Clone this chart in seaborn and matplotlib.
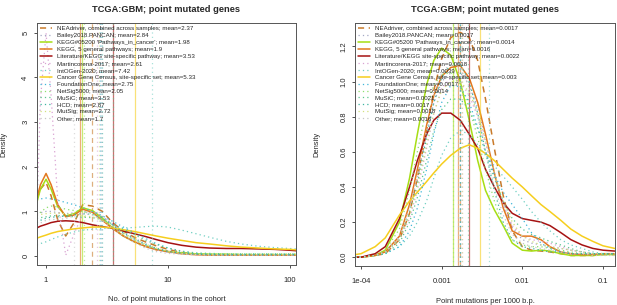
import matplotlib
matplotlib.use("Agg")
import matplotlib.pyplot as plt
import matplotlib.ticker as mticker
import seaborn as sns

sns.set_style("white")
plt.rcParams['font.family'] = ['Liberation Sans', 'DejaVu Sans']

# series names, colours and line kinds
names = ["NEAdriver, combined across samples", "Bailey2018.PANCAN", "KEGG#05200 'Pathways_in_cancer'",
         "KEGG, 5 general pathways", "Literature/KEGG site-specific pathway", "Martincorena-2017",
         "IntOGen-2020", "Cancer Gene Census, site-specific set", "FoundationOne", "NetSig5000",
         "MuSiC", "HCD", "MutSig", "Other"]
colors = ["#C97A2A", "#A4A8C4", "#A6DE14", "#E2781E", "#A51212", "#D9A2D2", "#6FCFC2",
          "#F6CE1E", "#3FB6D8", "#8EDF6C", "#5CC68E", "#3DB4A0", "#D2E07E", "#C6C6C6"]
kinds = ["dashed", "dotted", "solid", "solid", "solid", "dotted", "dotted",
         "solid", "dotted", "dotted", "dotted", "dotted", "dotted", "dotted"]

# left panel: number of point mutations in the cohort
means_left = [2.37, 2.84, 1.98, 1.9, 3.53, 2.61, 7.42, 5.33, 2.75, 2.05, 3.53, 2.87, 2.72, 1.7]
x_left = [0.84, 0.9, 1.0, 1.1, 1.25, 1.45, 1.7, 2.0, 2.4, 2.9, 3.5, 4.3, 5.3, 6.5, 8, 10, 13, 17,
          22, 30, 40, 55, 75, 100, 112]
dens_left = [
    [1.27, 1.5, 1.65, 1.35, 0.8, 0.45, 0.75, 1.15, 1.12, 1.0, 0.75, 0.56, 0.42, 0.32, 0.23, 0.15, 0.08, 0.04, 0.03, 0.02, 0.03, 0.02, 0.02, 0.02, 0.02],
    [0.95, 0.97, 1.0, 1.0, 0.97, 0.95, 0.97, 1.0, 0.98, 0.88, 0.72, 0.55, 0.4, 0.28, 0.18, 0.12, 0.07, 0.05, 0.04, 0.03, 0.03, 0.03, 0.03, 0.03, 0.03],
    [1.2, 1.5, 1.72, 1.5, 1.1, 0.9, 0.95, 1.08, 1.02, 0.85, 0.63, 0.45, 0.32, 0.22, 0.15, 0.1, 0.07, 0.05, 0.04, 0.04, 0.03, 0.03, 0.03, 0.03, 0.03],
    [1.3, 1.6, 1.85, 1.6, 1.15, 0.88, 0.92, 1.05, 0.98, 0.8, 0.62, 0.45, 0.32, 0.22, 0.14, 0.1, 0.05, 0.03, 0.02, 0.02, 0.02, 0.02, 0.02, 0.02, 0.02],
    [0.63, 0.67, 0.71, 0.75, 0.78, 0.79, 0.78, 0.75, 0.7, 0.66, 0.62, 0.56, 0.5, 0.44, 0.37, 0.3, 0.24, 0.2, 0.18, 0.17, 0.17, 0.16, 0.15, 0.13, 0.12],
    [1.0, 3.5, 5.0, 3.6, 1.2, 0.02, 0.5, 0.95, 1.0, 0.9, 0.7, 0.5, 0.35, 0.22, 0.14, 0.08, 0.05, 0.03, 0.02, 0.02, 0.02, 0.02, 0.02, 0.02, 0.02],
    [0.25, 0.28, 0.32, 0.37, 0.43, 0.49, 0.54, 0.58, 0.6, 0.62, 0.62, 0.63, 0.64, 0.66, 0.67, 0.65, 0.58, 0.5, 0.42, 0.33, 0.27, 0.22, 0.19, 0.17, 0.16],
    [0.4, 0.43, 0.47, 0.51, 0.55, 0.58, 0.61, 0.63, 0.65, 0.65, 0.63, 0.59, 0.55, 0.5, 0.45, 0.4, 0.35, 0.3, 0.27, 0.23, 0.2, 0.18, 0.16, 0.15, 0.14],
    [1.27, 1.28, 1.3, 1.28, 1.25, 1.2, 1.15, 1.08, 1.0, 0.9, 0.78, 0.65, 0.52, 0.4, 0.28, 0.18, 0.1, 0.06, 0.04, 0.03, 0.03, 0.03, 0.03, 0.03, 0.03],
    [0.9, 0.98, 1.08, 1.12, 1.1, 1.05, 1.02, 1.0, 0.95, 0.82, 0.66, 0.5, 0.36, 0.25, 0.16, 0.1, 0.07, 0.05, 0.05, 0.05, 0.05, 0.05, 0.05, 0.05, 0.05],
    [0.85, 0.86, 0.88, 0.9, 0.91, 0.9, 0.88, 0.87, 0.86, 0.82, 0.72, 0.6, 0.48, 0.36, 0.26, 0.18, 0.11, 0.07, 0.06, 0.05, 0.05, 0.05, 0.05, 0.05, 0.05],
    [0.75, 0.8, 0.85, 0.87, 0.88, 0.9, 0.93, 0.95, 0.93, 0.85, 0.7, 0.52, 0.38, 0.26, 0.17, 0.1, 0.06, 0.04, 0.03, 0.03, 0.03, 0.03, 0.03, 0.03, 0.03],
    [0.92, 0.93, 0.95, 0.96, 0.96, 0.95, 0.93, 0.9, 0.88, 0.8, 0.68, 0.52, 0.38, 0.27, 0.18, 0.11, 0.06, 0.04, 0.03, 0.03, 0.03, 0.03, 0.03, 0.03, 0.03],
    [0.7, 0.74, 0.8, 0.82, 0.82, 0.84, 0.9, 0.95, 0.92, 0.8, 0.62, 0.45, 0.3, 0.18, 0.1, 0.06, 0.04, 0.03, 0.02, 0.02, 0.02, 0.02, 0.02, 0.02, 0.02],
]

# right panel: point mutations per 1000 b.p.
means_right = [0.0017, 0.0017, 0.0014, 0.0016, 0.0022, 0.0018, 0.0039, 0.003, 0.0017, 0.0014,
               0.0021, 0.0017, 0.0018, 0.0016]
x_right = [8.5e-5, 1e-4, 1.5e-4, 2e-4, 3e-4, 4e-4, 5e-4, 6.5e-4, 8e-4, 0.001, 0.0013, 0.0017,
           0.0022, 0.0028, 0.0035, 0.0045, 0.0058, 0.0075, 0.01, 0.013, 0.017, 0.022, 0.03,
           0.04, 0.055, 0.075, 0.1, 0.14]
dens_right = [
    [0.0, 0.0, 0.01, 0.02, 0.1, 0.25, 0.45, 0.72, 0.95, 1.13, 1.25, 1.28, 1.25, 1.12, 0.9, 0.62, 0.35, 0.15, 0.06, 0.04, 0.035, 0.03, 0.02, 0.01, 0.01, 0.01, 0.015, 0.015],
    [0.0, 0.0, 0.01, 0.03, 0.12, 0.28, 0.45, 0.7, 0.88, 1.0, 1.05, 1.05, 0.98, 0.85, 0.68, 0.48, 0.3, 0.17, 0.1, 0.08, 0.07, 0.06, 0.05, 0.04, 0.03, 0.02, 0.02, 0.02],
    [0.0, 0.0, 0.01, 0.04, 0.2, 0.45, 0.7, 0.98, 1.12, 1.19, 1.15, 1.0, 0.78, 0.55, 0.38, 0.27, 0.18, 0.08, 0.04, 0.035, 0.04, 0.035, 0.02, 0.01, 0.01, 0.01, 0.015, 0.015],
    [0.0, 0.0, 0.01, 0.03, 0.12, 0.3, 0.5, 0.75, 0.92, 1.03, 1.08, 1.09, 1.02, 0.88, 0.7, 0.48, 0.28, 0.15, 0.12, 0.12, 0.1, 0.06, 0.03, 0.02, 0.015, 0.015, 0.02, 0.02],
    [0.0, 0.0, 0.02, 0.06, 0.22, 0.4, 0.55, 0.7, 0.78, 0.82, 0.82, 0.78, 0.7, 0.62, 0.5, 0.4, 0.31, 0.25, 0.22, 0.21, 0.2, 0.18, 0.14, 0.1, 0.07, 0.05, 0.04, 0.035],
    [0.0, 0.0, 0.01, 0.03, 0.1, 0.22, 0.38, 0.62, 0.82, 0.96, 1.02, 1.0, 0.92, 0.8, 0.65, 0.47, 0.3, 0.18, 0.12, 0.1, 0.09, 0.08, 0.06, 0.04, 0.03, 0.02, 0.02, 0.02],
    [0.0, 0.0, 0.01, 0.02, 0.06, 0.12, 0.2, 0.32, 0.45, 0.58, 0.68, 0.72, 0.7, 0.64, 0.58, 0.52, 0.46, 0.4, 0.33, 0.26, 0.2, 0.15, 0.1, 0.07, 0.05, 0.03, 0.02, 0.02],
    [0.015, 0.02, 0.06, 0.11, 0.24, 0.32, 0.37, 0.43, 0.48, 0.53, 0.58, 0.62, 0.64, 0.62, 0.59, 0.55, 0.5, 0.45, 0.4, 0.35, 0.3, 0.26, 0.21, 0.16, 0.12, 0.09, 0.065, 0.05],
    [0.0, 0.0, 0.01, 0.02, 0.06, 0.15, 0.28, 0.5, 0.7, 0.88, 0.98, 0.97, 0.88, 0.74, 0.6, 0.47, 0.37, 0.3, 0.22, 0.14, 0.08, 0.05, 0.03, 0.02, 0.02, 0.02, 0.02, 0.02],
    [0.0, 0.0, 0.01, 0.04, 0.16, 0.38, 0.6, 0.85, 0.98, 1.04, 1.05, 0.98, 0.85, 0.68, 0.5, 0.32, 0.18, 0.1, 0.07, 0.06, 0.06, 0.05, 0.04, 0.03, 0.02, 0.02, 0.02, 0.02],
    [0.0, 0.0, 0.01, 0.02, 0.08, 0.2, 0.34, 0.55, 0.72, 0.84, 0.9, 0.9, 0.84, 0.73, 0.6, 0.45, 0.32, 0.22, 0.16, 0.13, 0.11, 0.09, 0.07, 0.05, 0.03, 0.02, 0.02, 0.02],
    [0.0, 0.0, 0.01, 0.03, 0.1, 0.25, 0.42, 0.68, 0.88, 1.02, 1.1, 1.1, 1.0, 0.82, 0.6, 0.38, 0.2, 0.1, 0.06, 0.05, 0.04, 0.03, 0.03, 0.02, 0.02, 0.02, 0.02, 0.02],
    [0.0, 0.0, 0.01, 0.03, 0.1, 0.24, 0.4, 0.64, 0.82, 0.95, 1.0, 1.0, 0.94, 0.82, 0.66, 0.48, 0.32, 0.2, 0.12, 0.09, 0.07, 0.06, 0.05, 0.04, 0.03, 0.02, 0.02, 0.02],
    [0.0, 0.0, 0.01, 0.03, 0.12, 0.28, 0.46, 0.72, 0.92, 1.05, 1.1, 1.08, 0.97, 0.8, 0.6, 0.4, 0.24, 0.13, 0.08, 0.06, 0.05, 0.04, 0.03, 0.02, 0.02, 0.01, 0.01, 0.01],
]

styles = {"solid": "-", "dashed": (0, (4, 3)), "dotted": (0, (1, 2.5))}


def draw_panel(ax, xs, dens, means, xlabel, xticks, xticklabels, yticks, yticklabels, ylim, xlim):
    for i in range(len(names)):
        ls = styles[kinds[i]]
        lw = 1.1 if kinds[i] != "dotted" else 0.9
        sns.lineplot(x=xs, y=dens[i], ax=ax, color=colors[i], linestyle=ls, linewidth=lw,
                     estimator=None, sort=False, label=names[i] + "; mean=" + "%g" % means[i])
        ax.axvline(means[i], color=colors[i], linestyle=ls, linewidth=0.9, alpha=0.6)
    ax.set_xscale("log")
    ax.set_xlim(*xlim)
    ax.set_ylim(*ylim)
    ax.xaxis.set_major_locator(mticker.FixedLocator(xticks))
    ax.xaxis.set_major_formatter(mticker.FixedFormatter(xticklabels))
    ax.xaxis.set_minor_locator(mticker.NullLocator())
    ax.set_yticks(yticks)
    ax.set_yticklabels(yticklabels, rotation=90, va="center")
    ax.tick_params(axis="both", which="major", direction="out", length=2.5, width=0.6,
                   labelsize=5.5, color="#333333", pad=3, bottom=True, left=True)
    ax.tick_params(axis="x", pad=6)
    for s in ax.spines.values():
        s.set_color("#555555")
        s.set_linewidth(0.7)
    ax.set_xlabel(xlabel, fontsize=5.4)
    ax.set_ylabel("Density", fontsize=5.4)
    ax.xaxis.set_label_coords(0.5, -0.13)
    ax.set_title("TCGA:GBM; point mutated genes", fontsize=6.7, fontweight="bold", pad=8)
    ax.legend(loc="upper left", frameon=False, fontsize=4.4, handlelength=2.0, handletextpad=0.8,
              labelspacing=0.27, borderaxespad=0.2, borderpad=0.3)


fig = plt.figure(figsize=(6.17, 3.05), dpi=100)
ax1 = fig.add_axes([37 / 617, 40 / 305, 259 / 617, 242 / 305])
ax2 = fig.add_axes([355 / 617, 39 / 305, 260 / 617, 243 / 305])

draw_panel(ax1, x_left, dens_left, means_left,
           "No. of point mutations in the cohort", [1, 10, 100], ["1", "10", "100"],
           [0, 1, 2, 3, 4, 5], ["0", "1", "2", "3", "4", "5"], (-0.2, 5.22), (0.843, 112))
ax1.yaxis.set_label_coords(-0.115, 0.5)

draw_panel(ax2, x_right, dens_right, means_right,
           "Point mutations per 1000 b.p.", [1e-4, 1e-3, 1e-2, 1e-1], ["1e-04", "0.001", "0.01", "0.1"],
           [0, 0.2, 0.4, 0.6, 0.8, 1.0, 1.2], ["0.0", "0.2", "0.4", "0.6", "0.8", "1.0", "1.2"],
           (-0.05, 1.333), (8.43e-5, 0.141))
ax2.yaxis.set_label_coords(-0.135, 0.5)

fig.savefig("out.png", dpi=100)
